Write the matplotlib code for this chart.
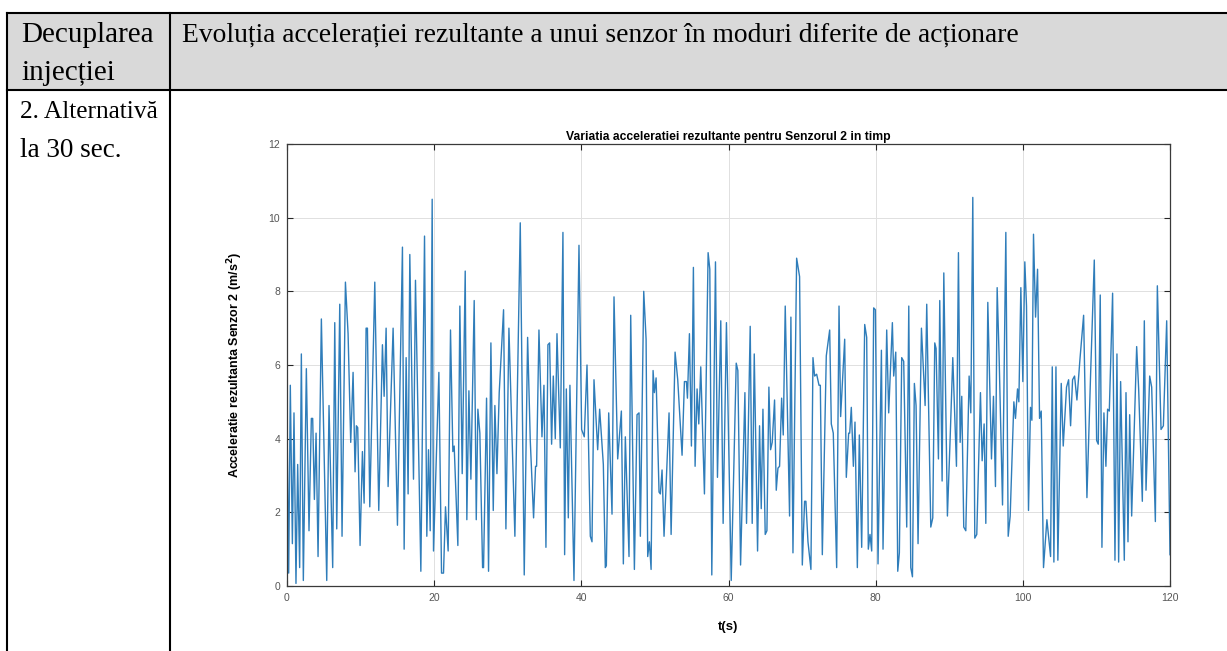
import numpy as np
import matplotlib
matplotlib.use("Agg")
import matplotlib.pyplot as plt
from matplotlib.lines import Line2D
from matplotlib.patches import Rectangle

W, H = 1227, 651

# table texts
HEAD_LEFT = ["Decuplarea", "injecției"]
HEAD_RIGHT = "Evoluția accelerației rezultante a unui senzor în moduri diferite de acționare"
ROW_LEFT = ["2. Alternativă", "la 30 sec."]

TITLE = "Variatia acceleratiei rezultante pentru Senzorul 2 in timp"
XLABEL = "t(s)"
YLABEL = "Acceleratie rezultanta Senzor 2 (m/s$^\\mathbf{2}$)"
XTICKS = [0, 20, 40, 60, 80, 100, 120]
YTICKS = [0, 2, 4, 6, 8, 10, 12]

# turning points of the trace
t_s = [
    0.0, 0.23, 0.45, 0.73, 0.95, 1.22, 1.45, 1.72, 1.95, 2.22, 2.63, 2.99, 3.31, 3.49,
    3.72, 3.95, 4.22, 4.67, 5.40, 5.71, 6.21, 6.49, 6.76, 7.17, 7.48, 7.94, 8.30, 8.66,
    8.98, 9.25, 9.43, 9.61, 9.93, 10.25, 10.48, 10.75, 10.93, 11.25, 11.93, 12.47, 12.97,
    13.20, 13.47, 13.74, 14.42, 15.01, 15.69, 15.92, 16.19, 16.46, 16.69, 17.19, 17.46,
    18.19, 18.69, 19.00, 19.23, 19.46, 19.73, 19.91, 20.64, 21.00, 21.27, 21.54, 21.90,
    22.22, 22.54, 22.72, 23.22, 23.49, 23.81, 24.22, 24.44, 24.72, 24.99, 25.44, 25.72,
    25.94, 26.21, 26.58, 26.71, 27.12, 27.39, 27.71, 28.03, 28.25, 28.53, 28.84, 29.43,
    29.75, 30.16, 30.97, 31.70, 32.24, 32.70, 33.06, 33.51, 33.78, 33.92, 34.24, 34.65,
    34.92, 35.19, 35.46, 35.69, 35.96, 36.19, 36.46, 36.69, 37.14, 37.50, 37.73, 37.96,
    38.23, 38.45, 39.00, 39.68, 40.04, 40.40, 40.77, 41.22, 41.45, 41.72, 42.22, 42.49,
    42.99, 43.26, 43.40, 43.72, 44.17, 44.44, 44.94, 45.44, 45.71, 45.98, 46.48, 46.71,
    47.21, 47.57, 47.84, 48.02, 48.48, 48.80, 49.02, 49.25, 49.48, 49.75, 49.93, 50.16,
    50.56, 50.74, 50.97, 51.24, 51.92, 52.20, 52.74, 53.10, 53.69, 54.01, 54.28, 54.42,
    54.69, 54.96, 55.23, 55.46, 55.73, 55.96, 56.23, 56.73, 57.23, 57.46, 57.73, 58.23,
    58.50, 58.95, 59.27, 59.72, 60.37, 61.05, 61.27, 61.64, 62.23, 62.45, 62.95, 63.22,
    63.50, 63.95, 64.22, 64.45, 64.68, 64.99, 65.22, 65.49, 65.72, 65.94, 66.26, 66.49,
    66.72, 66.94, 67.22, 67.44, 67.71, 68.30, 68.48, 68.76, 69.26, 69.66, 70.03, 70.34,
    70.52, 70.80, 71.20, 71.48, 71.70, 71.98, 72.30, 72.48, 72.75, 73.29, 73.75, 73.97,
    74.24, 74.70, 75.02, 75.24, 75.79, 76.01, 76.33, 76.47, 76.69, 76.97, 77.19, 77.51,
    77.78, 78.10, 78.51, 78.78, 79.00, 79.23, 79.46, 79.73, 79.96, 80.32, 80.78, 81.00,
    81.50, 81.77, 82.27, 82.45, 82.73, 83.00, 83.22, 83.54, 83.81, 84.22, 84.50, 84.77,
    85.00, 85.26, 85.49, 85.76, 86.22, 86.72, 86.94, 87.49, 87.76, 88.03, 88.21, 88.53,
    88.71, 89.03, 89.26, 89.75, 90.12, 90.48, 90.98, 91.25, 91.48, 91.70, 91.97, 92.25,
    92.70, 92.93, 93.20, 93.47, 93.74, 94.24, 94.47, 94.74, 94.97, 95.24, 95.74, 96.01,
    96.28, 96.51, 96.78, 97.24, 97.69, 98.01, 98.28, 98.78, 99.00, 99.28, 99.46, 99.73,
    100.00, 100.27, 100.50, 100.77, 101.04, 101.23, 101.45, 101.73, 102.00, 102.27,
    102.50, 102.81, 103.27, 103.77, 104.00, 104.22, 104.50, 104.76, 105.22, 105.49,
    105.94, 106.22, 106.49, 106.76, 107.03, 107.35, 107.76, 108.26, 108.71, 109.21,
    109.71, 110.03, 110.25, 110.52, 110.75, 111.02, 111.29, 111.52, 111.75, 112.20,
    112.52, 112.79, 113.02, 113.29, 113.52, 113.79, 114.02, 114.29, 114.52, 114.79,
    115.47, 115.74, 116.24, 116.51, 116.74, 117.24, 117.51, 118.01, 118.28, 118.78,
    119.10, 119.55, 120.00,
]
accel = [
    4.5, 0.35, 5.45, 1.15, 4.7, 0.07, 3.3, 0.5, 6.3, 0.15, 5.9, 1.5, 4.55, 4.55,
    2.35, 4.15, 0.8, 7.25, 0.15, 4.9, 0.5, 7.15, 1.55, 7.65, 1.35, 8.25, 6.85, 3.9,
    5.8, 3.1, 4.35, 4.3, 1.1, 3.65, 2.25, 7.0, 7.0, 2.15, 8.25, 2.05, 6.55,
    5.15, 7.0, 2.7, 7.0, 1.65, 9.2, 1.0, 6.2, 2.5, 9.0, 2.9, 8.3,
    0.4, 9.5, 1.35, 3.7, 1.5, 10.5, 0.95, 5.8, 0.35, 0.35, 2.15, 0.95,
    6.95, 3.65, 3.8, 1.1, 7.6, 3.05, 8.55, 1.8, 5.3, 2.9, 7.75, 1.8,
    4.8, 4.15, 0.5, 0.5, 5.1, 0.4, 6.6, 2.05, 4.9, 3.05, 5.25, 7.5,
    1.55, 7.0, 1.35, 9.86, 0.3, 6.75, 3.95, 1.85, 3.25, 3.25, 6.95, 4.05,
    5.45, 1.05, 6.55, 6.6, 3.85, 5.7, 4.0, 6.85, 3.75, 9.6, 0.85, 5.35,
    1.85, 5.45, 0.15, 9.25, 4.25, 4.05, 6.0, 1.35, 1.2, 5.6, 3.7, 4.8,
    3.3, 0.5, 0.55, 4.7, 1.95, 7.85, 3.45, 4.75, 0.6, 4.05, 0.8, 7.35,
    0.45, 4.65, 4.7, 1.35, 8.0, 6.7, 0.8, 1.2, 0.45, 5.85, 5.25, 5.65,
    2.55, 2.5, 3.15, 1.35, 4.7, 1.4, 6.35, 5.6, 3.55, 5.55, 5.55, 5.1,
    6.85, 3.8, 8.65, 3.25, 5.35, 4.4, 5.95, 2.5, 9.05, 8.6, 0.3, 8.8,
    2.95, 7.2, 1.7, 7.15, 0.15, 6.05, 5.85, 0.57, 5.25, 1.7, 7.05, 1.7,
    6.3, 0.95, 4.35, 2.1, 4.8, 1.4, 1.5, 5.4, 3.7, 3.9, 5.05, 2.6,
    3.2, 3.25, 5.1, 4.1, 7.6, 1.9, 7.3, 0.9, 8.9, 8.4, 0.57, 2.3,
    2.3, 1.2, 0.45, 6.2, 5.7, 5.75, 5.45, 5.45, 0.85, 6.25, 6.95, 4.4,
    4.15, 0.5, 7.6, 4.6, 6.7, 2.95, 4.15, 4.15, 4.85, 3.25, 4.45, 0.5,
    4.1, 1.05, 7.1, 6.75, 1.0, 1.4, 0.95, 7.55, 7.5, 0.6, 6.4, 1.0,
    6.95, 4.7, 7.15, 5.7, 6.35, 0.4, 0.9, 6.2, 6.1, 1.6, 7.6, 0.5,
    0.25, 5.5, 4.9, 1.15, 7.0, 4.9, 7.65, 1.6, 1.85, 6.6, 6.45, 3.45,
    7.75, 2.85, 8.5, 1.9, 4.0, 6.2, 3.25, 9.05, 3.9, 5.15, 1.6, 1.5,
    5.7, 4.7, 10.55, 1.3, 1.4, 5.25, 3.4, 4.4, 1.7, 7.7, 3.45, 5.15,
    2.7, 8.1, 6.2, 2.2, 9.6, 1.35, 1.9, 5.0, 4.55, 5.35, 5.0, 8.1,
    5.55, 8.8, 7.6, 2.05, 4.85, 4.5, 9.55, 7.3, 8.6, 4.55,
    4.75, 0.5, 1.8, 0.8, 5.95, 0.65, 5.95, 0.7, 5.5, 3.8,
    5.4, 5.6, 4.35, 5.6, 5.7, 5.05, 6.15, 7.35, 2.4, 5.75,
    8.85, 3.95, 3.85, 7.9, 1.05, 4.7, 3.25, 4.8, 4.75, 7.95,
    0.7, 6.3, 0.65, 5.55, 3.25, 0.7, 5.25, 1.2, 4.65, 1.9,
    6.5, 5.35, 2.3, 7.2, 2.6, 5.7, 5.4, 1.75, 8.15, 4.25,
    4.35, 7.2, 0.85,
]


def fx(px):
    return px / W


def fy(py):
    return 1 - py / H


fig = plt.figure(figsize=(W / 100, H / 100), dpi=100)
fig.patch.set_facecolor("white")

# ---- table around the chart ----
fig.add_artist(Rectangle((fx(7), fy(90)), fx(W) - fx(7), fy(13) - fy(90),
                         transform=fig.transFigure, facecolor="#d9d9d9",
                         edgecolor="none", zorder=0))
tbl_lines = [
    ((7, W), (13, 13)),
    ((7, W), (90, 90)),
    ((7, 7), (13, H)),
    ((170, 170), (13, H)),
]
for xs, ys in tbl_lines:
    fig.add_artist(Line2D([fx(xs[0]), fx(xs[1])], [fy(ys[0]), fy(ys[1])],
                          transform=fig.transFigure, color="black", lw=1.5))

serif = dict(family="Liberation Serif", color="black", va="baseline")
fig.text(fx(21), fy(42), HEAD_LEFT[0], fontsize=21, **serif)
fig.text(fx(21), fy(80), HEAD_LEFT[1], fontsize=21, **serif)
fig.text(fx(182), fy(42), HEAD_RIGHT, fontsize=19.8, **serif)
fig.text(fx(20), fy(118), ROW_LEFT[0], fontsize=18.3, **serif)
fig.text(fx(20), fy(157), ROW_LEFT[1], fontsize=19.5, **serif)

# ---- the chart ----
ax = fig.add_axes([fx(287), fy(586), fx(1170) - fx(287), fy(144) - fy(586)])
ax.plot(t_s, accel, color="#2f7dba", lw=1.0)

ax.set_xlim(0, 120)
ax.set_ylim(0, 12)
ax.set_xticks(XTICKS)
ax.set_yticks(YTICKS)
ax.grid(True, color="#e0e0e0", lw=0.7)
ax.set_axisbelow(True)
ax.tick_params(direction="in", top=True, right=True, length=4, width=0.8,
               colors="#262626", labelcolor="#555555", labelsize=7.5, pad=5)
for sp in ax.spines.values():
    sp.set_color("#3a3a3a")
    sp.set_linewidth(0.9)

sans = "Liberation Sans"
for lab in ax.get_xticklabels() + ax.get_yticklabels():
    lab.set_family(sans)
ax.set_title(TITLE, fontsize=8.7, fontweight="bold", family=sans, pad=3)
ax.set_xlabel(XLABEL, fontsize=9.5, fontweight="bold", family=sans)
ax.set_ylabel(YLABEL, fontsize=9, fontweight="bold", family=sans)
ax.xaxis.set_label_coords(0.5, -0.079)
ax.yaxis.set_label_coords(-0.048, 0.5)

fig.savefig("out.png", dpi=100, facecolor="white")
